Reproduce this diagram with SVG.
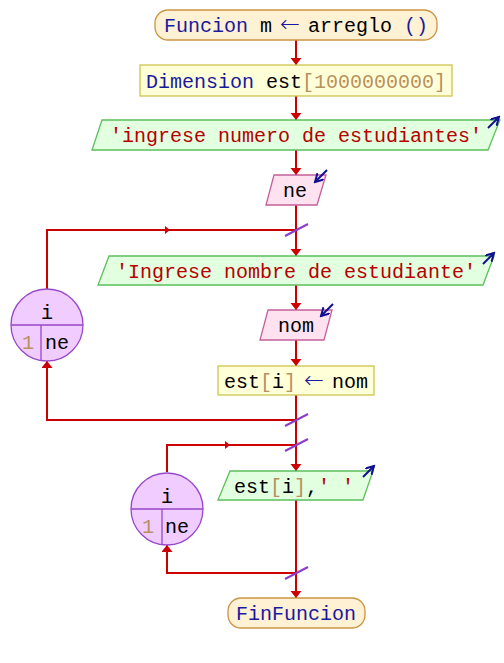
<svg xmlns="http://www.w3.org/2000/svg" width="504" height="663" viewBox="0 0 504 663">
<style>
text{font-family:"Liberation Mono","DejaVu Sans Mono",monospace;font-size:20px;fill:#000}
.kw{fill:#1a1aa0}
.arr{font-family:"DejaVu Sans",sans-serif;font-weight:200;font-size:24px;fill:#1a1aa0}
.num{fill:#b89060}
.str{fill:#b80000}
.term{fill:#fff1d4;stroke:#cc9444;stroke-width:1.3}
.proc{fill:#ffffd8;stroke:#cfc450;stroke-width:1.3}
.out{fill:#e2ffe0;stroke:#5cbf5c;stroke-width:1.3}
.in{fill:#ffe2f0;stroke:#c4609a;stroke-width:1.3}
.loop{fill:#f0ccff;stroke:#9648c8;stroke-width:1.3}
.ln{fill:none;stroke:#cc0000;stroke-width:2}
.sl{stroke:#8c3ccc;stroke-width:2}
.ic{stroke:#101090;stroke-width:2;fill:none}
</style>
<defs>
<marker id="ah" markerUnits="userSpaceOnUse" markerWidth="12" markerHeight="12" refX="7" refY="5.5" orient="auto">
<path d="M0,0 L7,5.5 L0,11 z" fill="#cc0000"/>
</marker>
<marker id="ahs" markerUnits="userSpaceOnUse" markerWidth="8" markerHeight="8" refX="5" refY="4" orient="auto">
<path d="M0,0 L5,4 L0,8 z" fill="#cc0000"/>
</marker>
<marker id="ai" markerUnits="userSpaceOnUse" markerWidth="10" markerHeight="10" refX="8" refY="4.5" orient="auto">
<path d="M0,0 L8,4.5 L0,9" fill="none" stroke="#101090" stroke-width="2"/>
</marker>
</defs>

<g id="connectors">
<path class="ln" d="M296,40 V65" marker-end="url(#ah)"/>
<path class="ln" d="M296,96 V120" marker-end="url(#ah)"/>
<path class="ln" d="M296,150 V175" marker-end="url(#ah)"/>
<path class="ln" d="M296,205 V256" marker-end="url(#ah)"/>
<path class="ln" d="M47,289 V230 H170" marker-end="url(#ahs)"/>
<path class="ln" d="M170,230 H296"/>
<path class="ln" d="M296,285 V310" marker-end="url(#ah)"/>
<path class="ln" d="M296,340 V366" marker-end="url(#ah)"/>
<path class="ln" d="M296,395 V471" marker-end="url(#ah)"/>
<path class="ln" d="M296,420 H47 V361" marker-end="url(#ah)"/>
<path class="ln" d="M167,472 V445 H230" marker-end="url(#ahs)"/>
<path class="ln" d="M230,445 H296"/>
<path class="ln" d="M296,500 V598" marker-end="url(#ah)"/>
<path class="ln" d="M296,573 H167 V545" marker-end="url(#ah)"/>
<line class="sl" x1="285" y1="236" x2="308" y2="224"/>
<line class="sl" x1="285" y1="426" x2="308" y2="414"/>
<line class="sl" x1="285" y1="451" x2="308" y2="439"/>
<line class="sl" x1="285" y1="579" x2="308" y2="567"/>
</g>

<g id="start">
<rect class="term" x="155" y="10" width="282" height="30" rx="13"/>
<text x="164" y="32"><tspan class="kw">Funcion</tspan> m</text>
<text x="290" y="32" text-anchor="middle" class="arr">←</text>
<text x="308" y="32">arreglo <tspan class="kw">()</tspan></text>
</g>

<g id="dim">
<rect class="proc" x="140" y="65" width="312" height="31"/>
<text x="296" y="88" text-anchor="middle"><tspan class="kw">Dimension</tspan> est<tspan class="num">[1000000000]</tspan></text>
</g>

<g id="out1">
<polygon class="out" points="102,120 500,120 488,150 92,150"/>
<text x="296" y="142" text-anchor="middle" class="str">'ingrese numero de estudiantes'</text>
<line class="ic" x1="488" y1="128" x2="499" y2="117" marker-end="url(#ai)"/>
</g>

<g id="in1">
<polygon class="in" points="274,175 326,175 317,205 266,205"/>
<text x="295" y="197" text-anchor="middle">ne</text>
<line class="ic" x1="327" y1="170" x2="315" y2="182" marker-end="url(#ai)"/>
</g>

<g id="loop1">
<circle class="loop" cx="47" cy="325" r="36"/>
<line x1="11" y1="325" x2="83" y2="325" stroke="#9648c8" stroke-width="1.3"/>
<line x1="41" y1="325" x2="41" y2="361" stroke="#9648c8" stroke-width="1.3"/>
<text x="47" y="319" text-anchor="middle">i</text>
<text x="28" y="349" text-anchor="middle" class="num">1</text>
<text x="45" y="349">ne</text>
</g>

<g id="out2">
<polygon class="out" points="109,256 494,256 483,285 98,285"/>
<text x="296" y="278" text-anchor="middle" class="str">'Ingrese nombre de estudiante'</text>
<line class="ic" x1="483" y1="264" x2="494" y2="253" marker-end="url(#ai)"/>
</g>

<g id="in2">
<polygon class="in" points="268,310 332,310 324,340 260,340"/>
<text x="296" y="332" text-anchor="middle">nom</text>
<line class="ic" x1="333" y1="304" x2="321" y2="316" marker-end="url(#ai)"/>
</g>

<g id="assign">
<rect class="proc" x="218" y="366" width="156" height="29"/>
<text x="224" y="388">est<tspan class="num">[</tspan>i<tspan class="num">]</tspan></text>
<text x="314" y="388" text-anchor="middle" class="arr">←</text>
<text x="332" y="388">nom</text>
</g>

<g id="loop2">
<circle class="loop" cx="167" cy="509" r="36"/>
<line x1="131" y1="509" x2="203" y2="509" stroke="#9648c8" stroke-width="1.3"/>
<line x1="162" y1="509" x2="162" y2="545" stroke="#9648c8" stroke-width="1.3"/>
<text x="167" y="503" text-anchor="middle">i</text>
<text x="148" y="533" text-anchor="middle" class="num">1</text>
<text x="165" y="533">ne</text>
</g>

<g id="out3">
<polygon class="out" points="230,471 373,471 363,500 218,500"/>
<text x="234" y="493">est<tspan class="num">[</tspan>i<tspan class="num">]</tspan>,<tspan class="str">' '</tspan></text>
<line class="ic" x1="363" y1="477" x2="374" y2="466" marker-end="url(#ai)"/>
</g>

<g id="end">
<rect class="term" x="228" y="598" width="137" height="30" rx="13"/>
<text x="296" y="620" text-anchor="middle" class="kw">FinFuncion</text>
</g>
</svg>
